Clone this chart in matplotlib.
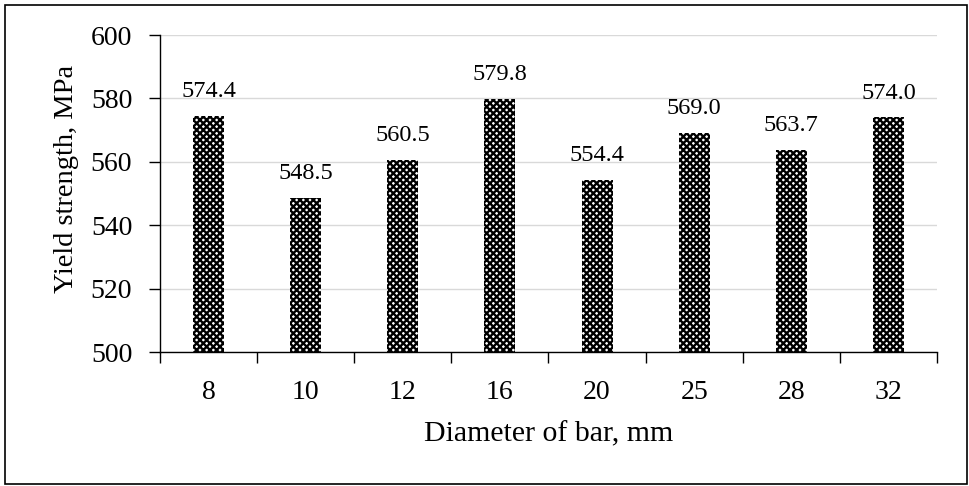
import matplotlib
matplotlib.use("Agg")
import matplotlib.pyplot as plt
from matplotlib.patches import Rectangle

diameters = ["8", "10", "12", "16", "20", "25", "28", "32"]
yield_strength = [574.4, 548.5, 560.5, 579.8, 554.4, 569.0, 563.7, 574.0]
y_ticks = [500, 520, 540, 560, 580, 600]

plt.rcParams['font.family'] = ['Liberation Serif', 'DejaVu Serif']
plt.rcParams['hatch.linewidth'] = 1.7
plt.rcParams['hatch.color'] = 'black'

fig = plt.figure(figsize=(9.7, 4.86), dpi=100)
ax = fig.add_axes([160/970, 1-352/486, (937-160)/970, (352-35)/486])

x = list(range(len(diameters)))
bars = ax.bar(x, yield_strength, width=0.32, bottom=0, color='white',
              edgecolor='black', hatch='xxxxx', linewidth=0, zorder=3)
for xi, v in zip(x, yield_strength):
    ax.annotate(f"{v:.1f}", (xi, v), xytext=(0, 10), textcoords='offset points',
                ha='center', va='bottom', fontsize=17.5)

ax.set_xlim(-0.5, len(diameters) - 0.5)
ax.set_ylim(500, 600)
ax.set_yticks(y_ticks)
ax.set_yticklabels([str(t) for t in y_ticks], fontsize=20)
ax.set_xticks(x)
ax.set_xticklabels(diameters, fontsize=20)
ax.set_xticks([i - 0.5 for i in range(len(diameters) + 1)], minor=True)
ax.tick_params(axis='x', which='major', length=0, pad=20)
ax.tick_params(axis='x', which='minor', length=8, width=1, direction='out')
ax.tick_params(axis='y', length=8, width=1, direction='out', pad=12)
ax.yaxis.grid(True, color='#d9d9d9', linewidth=1, zorder=0)
ax.set_axisbelow(True)
for s in ['top', 'right']:
    ax.spines[s].set_visible(False)
ax.spines['left'].set_linewidth(1)
ax.spines['bottom'].set_linewidth(1)

ax.set_xlabel("Diameter of bar, mm", fontsize=21.5, labelpad=12)
ax.set_ylabel("Yield strength, MPa", fontsize=20.5)
ax.yaxis.set_label_coords(-0.104, 0.547)

fig.patches.append(Rectangle((5/970, 2/486), 962/970, 479/486, transform=fig.transFigure,
                             fill=False, edgecolor='black', linewidth=1.2))

fig.savefig("out.png", dpi=100)
